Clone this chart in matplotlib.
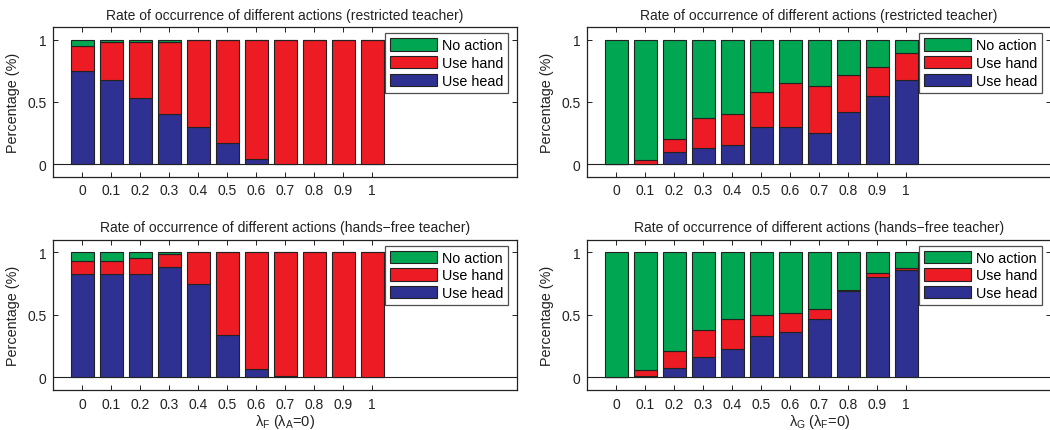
import matplotlib
matplotlib.use("Agg")
import matplotlib.pyplot as plt
import numpy as np
from matplotlib.patches import Patch

plt.rcParams['font.family'] = ['Liberation Sans', 'DejaVu Sans']
plt.rcParams['mathtext.fontset'] = 'custom'
plt.rcParams['mathtext.rm'] = 'Liberation Sans'
plt.rcParams['mathtext.it'] = 'Liberation Sans'
plt.rcParams['mathtext.bf'] = 'Liberation Sans:bold'

tick_labels = ['0', '0.1', '0.2', '0.3', '0.4', '0.5', '0.6', '0.7', '0.8', '0.9', '1']

# Top-left: restricted teacher, varying lambda_F
tl_head = [0.75, 0.68, 0.53, 0.40, 0.30, 0.17, 0.04, 0.0, 0.0, 0.0, 0.0]
tl_hand = [0.20, 0.30, 0.45, 0.58, 0.70, 0.83, 0.96, 1.0, 1.0, 1.0, 1.0]
tl_none = [0.05, 0.02, 0.02, 0.02, 0.0, 0.0, 0.0, 0.0, 0.0, 0.0, 0.0]

# Top-right: restricted teacher, varying lambda_G
tr_head = [0.0, 0.0, 0.10, 0.13, 0.15, 0.30, 0.30, 0.25, 0.42, 0.55, 0.68]
tr_hand = [0.0, 0.03, 0.10, 0.24, 0.25, 0.28, 0.35, 0.38, 0.30, 0.23, 0.21]
tr_none = [1.0, 0.97, 0.80, 0.63, 0.60, 0.42, 0.35, 0.37, 0.28, 0.22, 0.11]

# Bottom-left: hands-free teacher, varying lambda_F
bl_head = [0.83, 0.83, 0.83, 0.885, 0.75, 0.34, 0.07, 0.015, 0.0, 0.0, 0.0]
bl_hand = [0.10, 0.10, 0.12, 0.10, 0.25, 0.66, 0.93, 0.985, 1.0, 1.0, 1.0]
bl_none = [0.07, 0.07, 0.05, 0.015, 0.0, 0.0, 0.0, 0.0, 0.0, 0.0, 0.0]

# Bottom-right: hands-free teacher, varying lambda_G
br_head = [0.0, 0.013, 0.078, 0.166, 0.23, 0.332, 0.364, 0.465, 0.687, 0.80, 0.856]
br_hand = [0.0, 0.048, 0.133, 0.214, 0.233, 0.165, 0.149, 0.083, 0.013, 0.037, 0.018]
br_none = [1.0, 0.939, 0.789, 0.62, 0.537, 0.503, 0.487, 0.452, 0.30, 0.163, 0.126]

titles = ['Rate of occurrence of different actions (restricted teacher)',
          'Rate of occurrence of different actions (restricted teacher)',
          'Rate of occurrence of different actions (hands\u2212free teacher)',
          'Rate of occurrence of different actions (hands\u2212free teacher)']
xlabels = [None, None, r'$\lambda_F$ ($\lambda_A$=0)', r'$\lambda_G$ ($\lambda_F$=0)']
legend_labels = ['No action', 'Use hand', 'Use head']

c_head = '#2e3192'
c_hand = '#ed1c24'
c_none = '#00a651'
edge = '#222222'

W, H = 1050, 431
fig = plt.figure(figsize=(W / 100, H / 100), dpi=100)

# axes boxes in pixels: left, top, right, bottom
boxes = [(53.3, 28.3, 517.0, 177.5),
         (587.3, 28.3, 1051.0, 177.5),
         (53.3, 240.7, 517.0, 391.0),
         (587.3, 240.7, 1051.0, 391.0)]
data = [(tl_head, tl_hand, tl_none), (tr_head, tr_hand, tr_none),
        (bl_head, bl_hand, bl_none), (br_head, br_hand, br_none)]

for i, ((l, t, r, b), (head, hand, none)) in enumerate(zip(boxes, data)):
    ax = fig.add_axes([l / W, 1 - b / H, (r - l) / W, (b - t) / H])
    x = np.arange(len(tick_labels))
    head = np.array(head); hand = np.array(hand); none = np.array(none)
    kw = dict(width=0.8, edgecolor=edge, linewidth=0.8)
    ax.bar(x, head, color=c_head, **kw)
    ax.bar(x, hand, bottom=head, color=c_hand, **kw)
    ax.bar(x, none, bottom=head + hand, color=c_none, **kw)
    ax.axhline(0, color='#222222', linewidth=0.8, zorder=0.5)
    ax.set_xlim(-1, 15)
    ax.set_ylim(-0.1, 1.1)
    ax.set_xticks(x)
    ax.set_xticklabels(tick_labels)
    ax.set_yticks([0, 0.5, 1])
    ax.set_yticklabels(['0', '0.5', '1'])
    ax.tick_params(direction='in', length=3.5, width=0.7, top=True, right=True,
                   labelsize=10, pad=5, colors='#222222', labelcolor='#222222')
    for s in ax.spines.values():
        s.set_linewidth(0.9)
        s.set_color('#222222')
    ax.set_title(titles[i], fontsize=10, pad=6, color='#222222')
    ax.set_ylabel('Percentage (%)', fontsize=10.4, labelpad=5, color='#222222')
    if xlabels[i]:
        ax.set_xlabel(xlabels[i], fontsize=10.5, labelpad=1, color='#222222')
    handles = [Patch(facecolor=c_none, edgecolor=edge, linewidth=0.8),
               Patch(facecolor=c_hand, edgecolor=edge, linewidth=0.8),
               Patch(facecolor=c_head, edgecolor=edge, linewidth=0.8)]
    leg_right = r - 9
    leg = ax.legend(handles, legend_labels, loc='upper right',
                    bbox_to_anchor=(leg_right / W, 1 - (t + 6) / H),
                    bbox_transform=fig.transFigure, borderaxespad=0,
                    fontsize=10.3, handlelength=3.3, handleheight=0.95,
                    handletextpad=0.3, labelspacing=0.25, borderpad=0.35,
                    frameon=True, fancybox=False, edgecolor='#222222')
    leg.get_frame().set_linewidth(0.9)

fig.savefig('out.png', dpi=100)
